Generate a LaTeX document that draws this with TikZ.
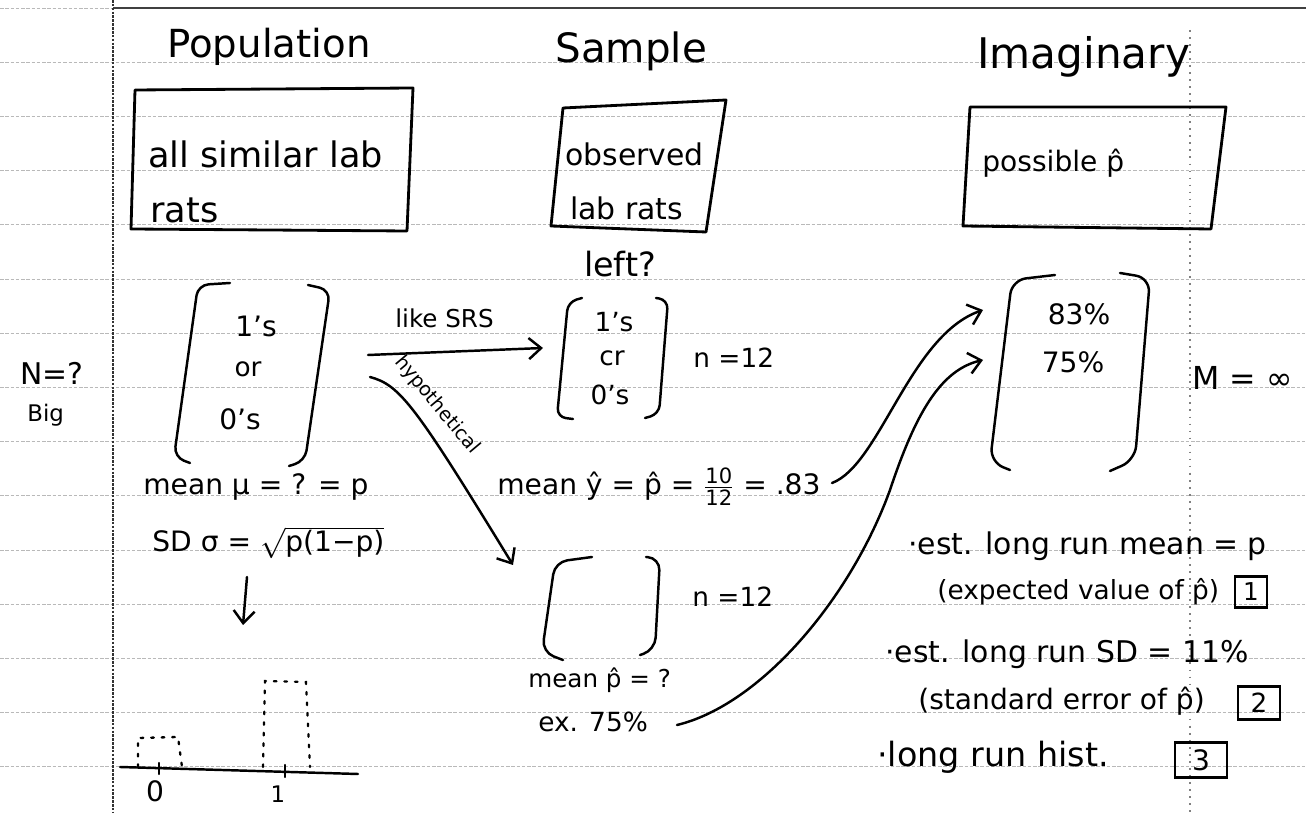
\documentclass[tikz,border=0pt]{standalone}
\usepackage{fontspec}
\setmainfont{DejaVu Sans}
\usetikzlibrary{arrows.meta}
\newcommand\hwsize[1]{\fontsize{#1}{#1}\selectfont}
\begin{document}
\begin{tikzpicture}[x=0.02cm,y=-0.02cm,
  pen/.style={line width=1.4pt, line cap=round, line join=round},
  rulel/.style={gray!55, line width=0.5pt, dash pattern=on 2pt off 1pt},
  hw/.style={inner sep=0pt, anchor=base west},
  hc/.style={inner sep=0pt, anchor=base},
  tip/.style={-{Straight Barb[length=7pt,width=12pt]}},
  dotbar/.style={line width=1.3pt, line cap=round, dash pattern=on 1.5pt off 4.5pt},
  numbox/.style={draw, line width=1.5pt, inner sep=0pt}
]
\fill[white] (0,0) rectangle (1306,813);
\useasboundingbox (0,0) rectangle (1306,813);
% ruled paper
\foreach \k in {0,...,14} \draw[rulel] (0,{8+54.2*\k}) -- (1306,{8+54.2*\k});
\draw[black!75, line width=0.9pt] (113,8) -- (1306,8);
\draw[black!80, line width=1pt, dash pattern=on 1.5pt off 0.7pt] (113,0) -- (113,813);
\draw[gray, line width=0.8pt, dash pattern=on 1pt off 3pt] (1190,30) -- (1190,813);

% titles
\node[hw,font=\hwsize{22}] (tpop) at (167,58) {Population};
\node[hw,font=\hwsize{23}] (tsam) at (555,63) {Sample};
\node[hw,font=\hwsize{24}] (timg) at (977,69) {Imaginary};

% top boxes
\draw[line width=1.6pt, line join=round] (135,90) -- (413,88) -- (407,231) -- (131,229) -- cycle;
\draw[line width=1.6pt, line join=round] (563,108) -- (726,100) -- (706,232) -- (551,226) -- cycle;
\draw[line width=1.6pt, line join=round] (970,107) -- (1226,107) -- (1211,229) -- (963,226) -- cycle;
\node[hw,font=\hwsize{20}] (popt1) at (148,168) {all similar lab};
\node[hw,font=\hwsize{20}] (popt2) at (150,223) {rats};
\node[hw,font=\hwsize{17}] (samt1) at (565,166) {observed};
\node[hw,font=\hwsize{17}] (samt2) at (570,220) {lab rats};
\node[hw,font=\hwsize{16}] (imgt) at (982,172) {possible p̂};

% population bracket
\draw[pen, rounded corners=6pt] (230,283) -- (198,285) -- (174,457) -- (190,463);
\draw[pen, rounded corners=6pt] (308,285) -- (330,290) -- (305,461) -- (289,466);
\node[hc,font=\hwsize{16}] (p1) at (256,337) {1's};
\node[hc,font=\hwsize{15}] (p2) at (248,377) {or};
\node[hc,font=\hwsize{16}] (p3) at (240,430) {0's};
\node[hw,font=\hwsize{17}] (bigN) at (20,385) {N=?};
\node[hw,font=\hwsize{13}] (big) at (27,422) {Big};

% sample bracket
\node[hc,font=\hwsize{19}] (leftq) at (620,277) {left?};
\draw[pen, rounded corners=5pt] (582,298) -- (568,302) -- (557,417) -- (573,419);
\draw[pen, rounded corners=5pt] (656,298) -- (668,300) -- (659,414) -- (645,418);
\node[hc,font=\hwsize{15}] (s1) at (614,332) {1's};
\node[hc,font=\hwsize{15}] (s2) at (612,366) {cr};
\node[hc,font=\hwsize{15}] (s3) at (610,405) {0's};
\node[hw,font=\hwsize{15}] (n1) at (693,368) {n =12};

% like SRS arrow
\node[hw,font=\hwsize{14}] (srs) at (395,328) {like SRS};
\coordinate (srsA) at (368,355);
\coordinate (srsB) at (543,348);
\draw[pen,tip] (srsA) -- (srsB);

% hypothetical arrow
\coordinate (hypA) at (370,377);
\coordinate (hypB) at (513,565);
\draw[pen,tip] (hypA) .. controls (400,385) and (415,405) .. (hypB);
\node[inner sep=0pt,font=\hwsize{11},rotate=-50] (hyp) at (437,405) {hypothetical};

% imaginary bracket
\draw[pen, rounded corners=8pt] (1055,275) -- (1012,280) -- (990,462) -- (1010,470);
\draw[pen, rounded corners=8pt] (1120,273) -- (1150,278) -- (1135,460) -- (1110,471);
\node[hc,font=\hwsize{16}] (i1) at (1079,325) {83\%};
\node[hc,font=\hwsize{16}] (i2) at (1073,373) {75\%};
\node[hw,font=\hwsize{18}] (bigM) at (1192,390) {M = ∞};

% population parameters
\node[hw,font=\hwsize{16}] (mu) at (143,495) {mean μ = ? = p};
\node[hw,font=\hwsize{16}] (sd) at (152,552) {SD σ = $\sqrt{\mbox{p(1−p)}}$};
\coordinate (muA) at (247,577);
\coordinate (muB) at (243,625);
\draw[pen,tip] (muA) -- (muB);

% histogram
\draw[pen] (120,767) -- (358,774);
\draw[dotbar] (138,767) -- (138,738) -- (178,737) -- (182,767);
\draw[dotbar] (263,767) -- (265,681) -- (306,682) -- (310,767);
\draw[pen] (159,763) -- (159,774);
\draw[pen] (285,765) -- (285,777);
\node[hc,font=\hwsize{16}] (h0) at (155,802) {0};
\node[hc,font=\hwsize{13}] (h1) at (278,803) {1};

% sample statistic
\node[hw,font=\hwsize{16}] (ybar) at (497,495) {mean ŷ = p̂ = $\frac{\mbox{\hwsize{12}10}}{\mbox{\hwsize{12}12}}$ = .83};
\coordinate (ybarE) at (832,483);
\coordinate (imgA) at (983,310);
\draw[pen,tip] (ybarE) .. controls (880,465) and (910,335) .. (imgA);

% hypothetical sample
\draw[pen, rounded corners=7pt] (592,557) -- (555,562) -- (542,652) -- (563,660);
\draw[pen, rounded corners=7pt] (646,557) -- (660,558) -- (655,650) -- (640,655);
\node[hw,font=\hwsize{15}] (n2) at (692,607) {n =12};
\node[hw,font=\hwsize{14}] (mp) at (528,688) {mean p̂ = ?};
\node[hw,font=\hwsize{15}] (ex) at (538,732) {ex. 75\%};
\coordinate (exE) at (677,725);
\coordinate (imgB) at (983,360);
\draw[pen,tip] (exE) .. controls (760,705) and (850,600) .. (890,490) .. controls (915,415) and (940,370) .. (imgB);

% long run notes
\node[hw,font=\hwsize{17}] (b1) at (908,555) {·est. long run mean = p};
\node[hw,font=\hwsize{15}] (b1b) at (937,600) {(expected value of p̂)};
\node[numbox,minimum width=0.64cm,minimum height=0.62cm,font=\hwsize{14}] (k1) at (1251,592) {1};
\node[hw,font=\hwsize{17}] (b2) at (885,663) {·est. long run SD = 11\%};
\node[hw,font=\hwsize{16}] (b2b) at (918,710) {(standard error of p̂)};
\node[numbox,minimum width=0.84cm,minimum height=0.66cm,font=\hwsize{15}] (k2) at (1259,703) {2};
\node[hw,font=\hwsize{19}] (b3) at (877,767) {·long run hist.};
\node[numbox,minimum width=1.04cm,minimum height=0.7cm,font=\hwsize{16}] (k3) at (1201,760) {3};
\end{tikzpicture}
\end{document}
